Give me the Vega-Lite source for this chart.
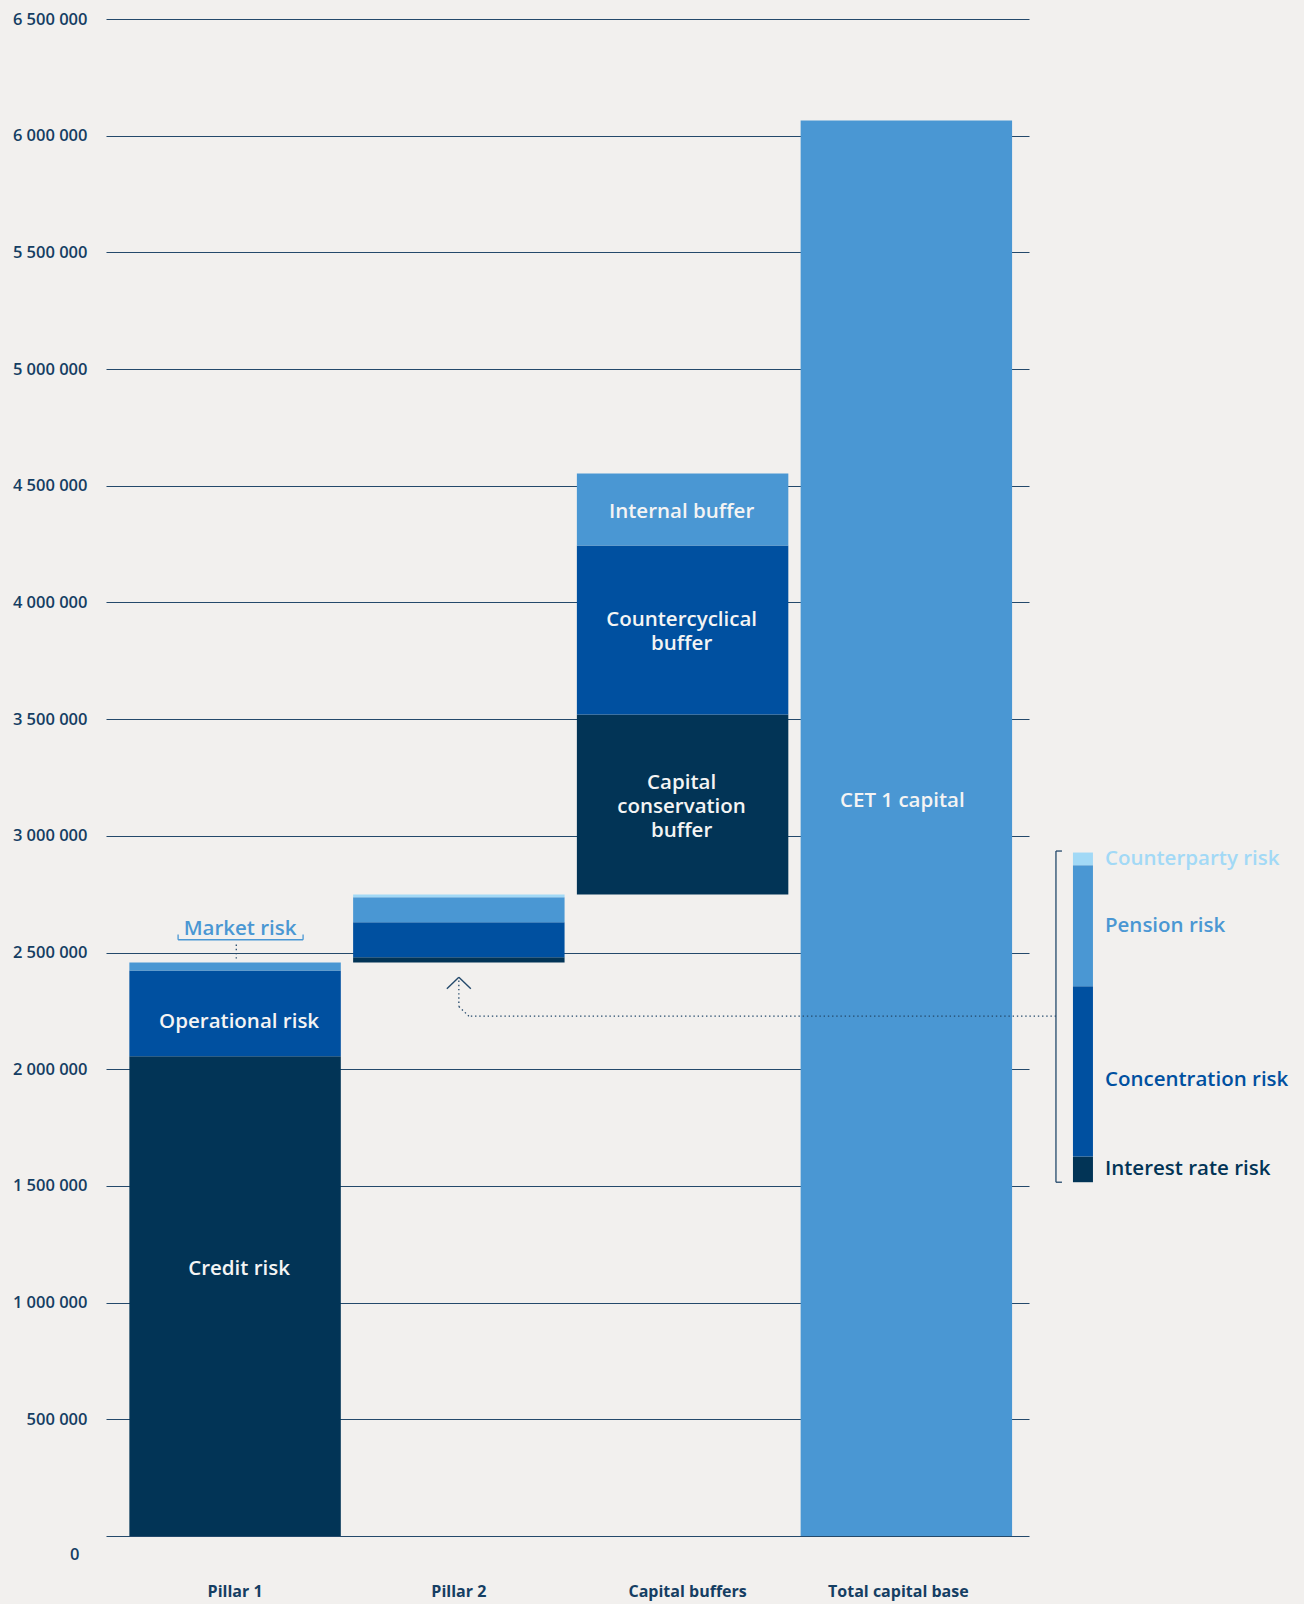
{
  "$schema": "https://vega.github.io/schema/vega-lite/v6.json",
  "width": 923,
  "height": 1517,
  "padding": {"left": 12, "top": 11, "right": 15, "bottom": 6},
  "background": "#f2f0ee",
  "config": {
    "view": {"stroke": null},
    "font": "Open Sans",
    "locale": {"number": {"decimal": ",", "thousands": " ", "grouping": [3], "currency": ["", ""]}}
  },
  "data": {
    "values": [
      {"cat": "Pillar 1", "seg": "Credit risk", "label": "Credit risk", "start": 0, "end": 2056000},
      {"cat": "Pillar 1", "seg": "Operational risk", "label": "Operational risk", "start": 2056000, "end": 2423000},
      {"cat": "Pillar 1", "seg": "Market risk", "label": null, "start": 2423000, "end": 2457000},
      {"cat": "Pillar 2", "seg": "Interest rate risk", "label": null, "start": 2457000, "end": 2479700},
      {"cat": "Pillar 2", "seg": "Concentration risk", "label": null, "start": 2479700, "end": 2630200},
      {"cat": "Pillar 2", "seg": "Pension risk", "label": null, "start": 2630200, "end": 2737100},
      {"cat": "Pillar 2", "seg": "Counterparty risk", "label": null, "start": 2737100, "end": 2748300},
      {"cat": "Capital buffers", "seg": "Capital conservation buffer", "label": "Capital\nconservation\nbuffer", "start": 2748300, "end": 3519600},
      {"cat": "Capital buffers", "seg": "Countercyclical buffer", "label": "Countercyclical\nbuffer", "start": 3519600, "end": 4243700},
      {"cat": "Capital buffers", "seg": "Internal buffer", "label": "Internal buffer", "start": 4243700, "end": 4552200},
      {"cat": "Total capital base", "seg": "CET 1 capital", "label": "CET 1 capital", "start": 0, "end": 6065000}
    ]
  },
  "encoding": {
    "x": {
      "field": "cat",
      "type": "nominal",
      "scale": {"domain": ["Pillar 1", "Pillar 2", "Capital buffers", "Total capital base"], "paddingInner": 0.055, "paddingOuter": 0.09, "align": 0.58},
      "axis": {
        "title": null, "domain": false, "ticks": false, "tickSize": 0, "labelAngle": 0, "labelPadding": 47,
        "labelFont": "Open Sans", "labelFontSize": 16, "labelFontWeight": 700, "labelColor": "#153e63",
        "labelOffset": {"condition": [{"test": "datum.value === 'Total capital base'", "value": -8}, {"test": "datum.value === 'Capital buffers'", "value": 5}], "value": 0}
      }
    }
  },
  "layer": [
    {
      "layer": [
        {
          "mark": {"type": "bar"},
          "encoding": {
            "y": {
              "field": "start", "type": "quantitative",
              "scale": {"domain": [0, 6500000], "nice": false, "zero": true},
              "axis": {
                "title": null,
                "values": [0, 500000, 1000000, 1500000, 2000000, 2500000, 3000000, 3500000, 4000000, 4500000, 5000000, 5500000, 6000000, 6500000],
                "format": ",d",
                "grid": true, "gridColor": "#24496b", "gridWidth": 1.2,
                "domain": false, "ticks": false, "tickSize": 0,
                "labelFont": "Open Sans", "labelFontSize": 16.5, "labelFontWeight": 600, "labelColor": "#153e63",
                "labelPadding": {"condition": {"test": "datum.value === 0", "value": 27}, "value": 19},
                "labelOffset": {"condition": {"test": "datum.value === 0", "value": 18}, "value": 0}
              }
            },
            "y2": {"field": "end"},
            "color": {
              "field": "seg", "type": "nominal", "legend": null,
              "scale": {
                "domain": ["Credit risk", "Operational risk", "Market risk", "Interest rate risk", "Concentration risk", "Pension risk", "Counterparty risk", "Capital conservation buffer", "Countercyclical buffer", "Internal buffer", "CET 1 capital"],
                "range": ["#023456", "#0050a0", "#4a97d3", "#023456", "#0050a0", "#4a97d3", "#a2d9f6", "#023456", "#0050a0", "#4a97d3", "#4a97d3"]
              }
            }
          }
        },
        {
          "transform": [{"filter": "datum.seg === 'Credit risk'"}, {"calculate": "(datum.start + datum.end) / 2", "as": "mid"}],
          "mark": {"type": "text", "color": "#f4f4f4", "font": "Open Sans", "fontSize": 20.5, "fontWeight": 600, "baseline": "middle", "align": "center", "dx": 4, "dy": -27},
          "encoding": {"y": {"field": "mid", "type": "quantitative", "axis": {"title": null}}, "text": {"field": "label"}}
        },
        {
          "transform": [{"filter": "datum.seg === 'Operational risk'"}, {"calculate": "(datum.start + datum.end) / 2", "as": "mid"}],
          "mark": {"type": "text", "color": "#f4f4f4", "font": "Open Sans", "fontSize": 20.5, "fontWeight": 600, "baseline": "middle", "align": "center", "dx": 4, "dy": 9},
          "encoding": {"y": {"field": "mid", "type": "quantitative", "axis": {"title": null}}, "text": {"field": "label"}}
        },
        {
          "transform": [{"filter": "datum.seg === 'Internal buffer'"}, {"calculate": "(datum.start + datum.end) / 2", "as": "mid"}],
          "mark": {"type": "text", "color": "#f4f4f4", "font": "Open Sans", "fontSize": 20.5, "fontWeight": 600, "baseline": "middle", "align": "center", "dx": -1, "dy": 2},
          "encoding": {"y": {"field": "mid", "type": "quantitative", "axis": {"title": null}}, "text": {"field": "label"}}
        },
        {
          "transform": [{"filter": "datum.seg === 'Countercyclical buffer'"}, {"calculate": "(datum.start + datum.end) / 2", "as": "mid"}],
          "mark": {"type": "text", "color": "#f4f4f4", "font": "Open Sans", "fontSize": 20.5, "fontWeight": 600, "baseline": "middle", "align": "center", "lineBreak": "\n", "lineHeight": 24, "dx": -1, "dy": -10},
          "encoding": {"y": {"field": "mid", "type": "quantitative", "axis": {"title": null}}, "text": {"field": "label"}}
        },
        {
          "transform": [{"filter": "datum.seg === 'Capital conservation buffer'"}, {"calculate": "(datum.start + datum.end) / 2", "as": "mid"}],
          "mark": {"type": "text", "color": "#f4f4f4", "font": "Open Sans", "fontSize": 20.5, "fontWeight": 600, "baseline": "middle", "align": "center", "lineBreak": "\n", "lineHeight": 24, "dx": -1, "dy": -22},
          "encoding": {"y": {"field": "mid", "type": "quantitative", "axis": {"title": null}}, "text": {"field": "label"}}
        },
        {
          "transform": [{"filter": "datum.seg === 'CET 1 capital'"}, {"calculate": "(datum.start + datum.end) / 2", "as": "mid"}],
          "mark": {"type": "text", "color": "#f4f4f4", "font": "Open Sans", "fontSize": 20.5, "fontWeight": 600, "baseline": "middle", "align": "center", "dx": -4, "dy": -27},
          "encoding": {"y": {"field": "mid", "type": "quantitative", "axis": {"title": null}}, "text": {"field": "label"}}
        },
        {
          "transform": [{"filter": "datum.seg === 'Market risk'"}],
          "mark": {"type": "text", "color": "#4a97d3", "font": "Open Sans", "fontSize": 20.5, "fontWeight": 600, "baseline": "middle", "align": "center", "dx": 5, "dy": -34},
          "encoding": {"y": {"field": "end", "type": "quantitative", "axis": {"title": null}}, "text": {"field": "seg"}}
        },
        {
          "transform": [{"filter": "datum.seg === 'Market risk'"}],
          "mark": {"type": "rule", "color": "#4a97d3", "strokeWidth": 1.3, "xOffset": -57, "x2Offset": 68, "yOffset": -22.8},
          "encoding": {"x2": {"field": "cat"}, "y": {"field": "end", "type": "quantitative", "axis": {"title": null}}}
        },
        {
          "transform": [{"filter": "datum.seg === 'Market risk'"}],
          "mark": {"type": "rule", "color": "#4a97d3", "strokeWidth": 1.3, "xOffset": -57, "yOffset": -28, "y2Offset": -22.8},
          "encoding": {"y": {"field": "end", "type": "quantitative", "axis": {"title": null}}, "y2": {"field": "end"}}
        },
        {
          "transform": [{"filter": "datum.seg === 'Market risk'"}],
          "mark": {"type": "rule", "color": "#4a97d3", "strokeWidth": 1.3, "xOffset": 68, "yOffset": -28, "y2Offset": -22.8},
          "encoding": {"y": {"field": "end", "type": "quantitative", "axis": {"title": null}}, "y2": {"field": "end"}}
        },
        {
          "transform": [{"filter": "datum.seg === 'Market risk'"}],
          "mark": {"type": "rule", "color": "#24496b", "strokeWidth": 1.3, "strokeDash": [1.4, 2.8], "xOffset": 1.2, "yOffset": -18, "y2Offset": -2},
          "encoding": {"y": {"field": "end", "type": "quantitative", "axis": {"title": null}}, "y2": {"field": "end"}}
        },
        {
          "transform": [{"filter": "datum.seg === 'Interest rate risk'"}],
          "mark": {"type": "rule", "color": "#24496b", "strokeWidth": 1.4, "xOffset": -12, "x2Offset": 0, "yOffset": 26.2, "y2Offset": 14.6},
          "encoding": {"x2": {"field": "cat"}, "y": {"field": "start", "type": "quantitative", "axis": {"title": null}}, "y2": {"field": "start"}}
        },
        {
          "transform": [{"filter": "datum.seg === 'Interest rate risk'"}],
          "mark": {"type": "rule", "color": "#24496b", "strokeWidth": 1.4, "xOffset": 0, "x2Offset": 12, "yOffset": 14.6, "y2Offset": 26.2},
          "encoding": {"x2": {"field": "cat"}, "y": {"field": "start", "type": "quantitative", "axis": {"title": null}}, "y2": {"field": "start"}}
        },
        {
          "transform": [{"filter": "datum.seg === 'Interest rate risk'"}],
          "mark": {"type": "rule", "color": "#24496b", "strokeWidth": 1.3, "strokeDash": [1.4, 2.8], "yOffset": 18, "y2Offset": 44},
          "encoding": {"y": {"field": "start", "type": "quantitative", "axis": {"title": null}}, "y2": {"field": "start"}}
        },
        {
          "transform": [{"filter": "datum.seg === 'Interest rate risk'"}],
          "mark": {"type": "rule", "color": "#24496b", "strokeWidth": 1.3, "strokeDash": [1.4, 2.8], "xOffset": 0, "x2Offset": 10, "yOffset": 44, "y2Offset": 53.6},
          "encoding": {"x2": {"field": "cat"}, "y": {"field": "start", "type": "quantitative", "axis": {"title": null}}, "y2": {"field": "start"}}
        },
        {
          "transform": [{"filter": "datum.seg === 'Interest rate risk'"}],
          "mark": {"type": "rule", "color": "#24496b", "strokeWidth": 1.3, "strokeDash": [1.4, 2.8], "xOffset": 12, "x2Offset": 149.6, "yOffset": 53.6},
          "encoding": {"x2": {"datum": "Total capital base"}, "y": {"field": "start", "type": "quantitative", "axis": {"title": null}}}
        }
      ]
    },
    {
      "layer": [
        {
          "transform": [{"filter": "datum.cat === 'Pillar 2'"}],
          "mark": {"type": "bar", "width": 20, "xOffset": 176.6},
          "encoding": {
            "x": {"datum": "Total capital base", "type": "nominal"},
            "y": {"field": "start", "type": "quantitative", "scale": {"domain": [2144400, 3484800], "nice": false, "zero": false}, "axis": null},
            "y2": {"field": "end"},
            "color": {"field": "seg", "type": "nominal", "legend": null}
          }
        },
        {
          "transform": [
            {"filter": "datum.cat === 'Pillar 2' && datum.seg !== 'Concentration risk'"},
            {"calculate": "(datum.start + datum.end) / 2", "as": "mid"}
          ],
          "mark": {"type": "text", "font": "Open Sans", "fontSize": 20.5, "fontWeight": 600, "align": "left", "baseline": "middle", "xOffset": 198.6, "dy": 0},
          "encoding": {
            "x": {"datum": "Total capital base", "type": "nominal"},
            "y": {"field": "mid", "type": "quantitative", "scale": {"domain": [2144400, 3484800], "nice": false, "zero": false}, "axis": null},
            "text": {"field": "seg"},
            "color": {"field": "seg", "type": "nominal", "legend": null}
          }
        },
        {
          "transform": [
            {"filter": "datum.seg === 'Concentration risk'"},
            {"calculate": "(datum.start + datum.end) / 2", "as": "mid"}
          ],
          "mark": {"type": "text", "font": "Open Sans", "fontSize": 20.5, "fontWeight": 600, "align": "left", "baseline": "middle", "xOffset": 198.6, "dy": 9},
          "encoding": {
            "x": {"datum": "Total capital base", "type": "nominal"},
            "y": {"field": "mid", "type": "quantitative", "scale": {"domain": [2144400, 3484800], "nice": false, "zero": false}, "axis": null},
            "text": {"field": "seg"},
            "color": {"field": "seg", "type": "nominal", "legend": null}
          }
        },
        {
          "transform": [
            {"filter": "datum.cat === 'Pillar 2'"},
            {"aggregate": [{"op": "min", "field": "start", "as": "lo"}, {"op": "max", "field": "end", "as": "hi"}]}
          ],
          "mark": {"type": "rule", "color": "#24496b", "strokeWidth": 1.3, "xOffset": 149.6, "yOffset": 0, "y2Offset": -1.5},
          "encoding": {
            "x": {"datum": "Total capital base", "type": "nominal"},
            "y": {"field": "lo", "type": "quantitative", "scale": {"domain": [2144400, 3484800], "nice": false, "zero": false}, "axis": null},
            "y2": {"field": "hi"}
          }
        },
        {
          "transform": [
            {"filter": "datum.cat === 'Pillar 2'"},
            {"aggregate": [{"op": "min", "field": "start", "as": "lo"}, {"op": "max", "field": "end", "as": "hi"}]}
          ],
          "mark": {"type": "rule", "color": "#24496b", "strokeWidth": 1.3, "xOffset": 149.6, "x2Offset": 155.6, "yOffset": -1.5},
          "encoding": {
            "x": {"datum": "Total capital base", "type": "nominal"},
            "x2": {"datum": "Total capital base"},
            "y": {"field": "hi", "type": "quantitative", "scale": {"domain": [2144400, 3484800], "nice": false, "zero": false}, "axis": null}
          }
        },
        {
          "transform": [
            {"filter": "datum.cat === 'Pillar 2'"},
            {"aggregate": [{"op": "min", "field": "start", "as": "lo"}, {"op": "max", "field": "end", "as": "hi"}]}
          ],
          "mark": {"type": "rule", "color": "#24496b", "strokeWidth": 1.3, "xOffset": 149.6, "x2Offset": 155.6},
          "encoding": {
            "x": {"datum": "Total capital base", "type": "nominal"},
            "x2": {"datum": "Total capital base"},
            "y": {"field": "lo", "type": "quantitative", "scale": {"domain": [2144400, 3484800], "nice": false, "zero": false}, "axis": null}
          }
        }
      ]
    }
  ],
  "resolve": {"scale": {"y": "independent"}}
}
